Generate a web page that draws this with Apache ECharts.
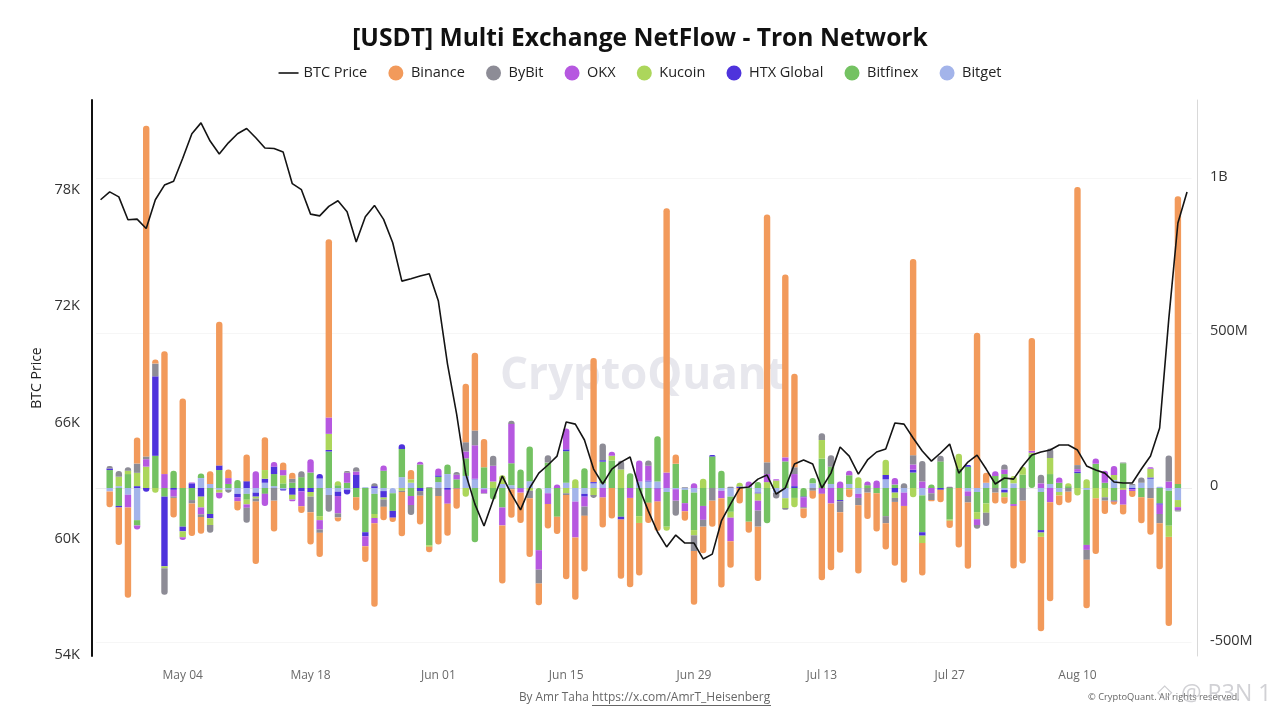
<!DOCTYPE html>
<html><head><meta charset="utf-8">
<style>html,body{margin:0;padding:0;background:#fff}#c{width:1280px;height:720px}</style>
<script src="https://cdn.jsdelivr.net/npm/echarts@6/dist/echarts.min.js"></script>
</head><body><div id="c"></div>
<script>
const FONT = '"Open Sans","Noto Sans",sans-serif';
const startDate = Date.UTC(2024,3,25);
const dayCount = 120;
const btcPrice = [77550,77960,77700,76520,76550,76070,77550,78310,78510,79690,80960,81520,80580,79910,80490,80960,81230,80750,80220,80200,80010,78380,78070,76810,76720,77210,77500,76930,75370,76670,77260,76540,75330,73350,73470,73610,73730,72320,69070,66490,63390,61840,60710,62050,63290,62360,61540,62670,63440,63860,64320,66080,65970,65150,63650,62880,63650,64010,64270,62670,61480,60400,59630,60240,59830,59830,59010,59260,60970,61840,62670,62720,63130,63340,62360,62670,63910,64120,63910,62670,63440,64790,64320,63390,64120,64530,64680,66030,65970,65250,64580,64060,64480,64940,63440,64010,64370,63650,62880,63190,63130,63810,64370,64530,64630,64890,64890,64630,63810,63600,63440,62980,62930,62930,63650,64320,65770,71390,76350,77950];
// Netflow in millions of USDT, one value per day from Apr 26 to Aug 21
const binance = [-51,-121,-292,84,1069,13,397,-63,289,-105,-54,41,464,28,-30,86,-202,106,-100,24,19,-22,-105,-78,576,-13,0,-43,-51,-270,-43,-14,-143,30,-93,-18,-157,-103,-65,189,251,91,0,-188,-92,-98,-190,-70,-79,-56,-272,-201,-180,401,-97,-99,-191,-289,-170,-65,-95,854,30,-31,-173,-86,-84,-289,-86,-50,-36,-176,801,0,591,302,-32,-26,-279,-216,-131,-26,-220,-85,-124,-85,-206,-248,634,-105,-4,-40,-23,-192,-214,502,32,-35,-21,-202,-203,365,-305,-320,-32,-36,899,-157,-180,-43,-10,-32,-19,-84,-118,-149,-288,930];
const bybit = [8,19,11,30,9,41,-86,-4,0,-11,-9,-25,0,-9,0,-48,-10,0,-41,0,13,19,-50,-11,-54,-13,6,14,0,9,-24,0,-4,-32,-15,2,-26,0,9,30,48,-2,32,0,10,0,-24,-45,24,0,-6,0,-30,-9,54,0,28,0,0,17,0,0,-49,2,-51,-22,-41,0,4,0,0,-52,38,-19,-5,22,-4,-9,22,37,-35,0,-24,-15,0,-23,-13,15,30,66,-22,18,4,0,-21,-12,-43,-15,16,0,-41,0,28,31,0,-12,13,-32,0,-11,0,2,4,17,-33,-30,84,-4];
const okx = [0,0,-41,-13,24,0,45,-22,-9,3,-22,0,-19,19,-13,-11,54,-39,15,17,-6,-48,43,-30,53,-56,32,11,-32,-17,17,0,0,-29,9,0,22,-45,15,22,108,-13,51,-58,127,-13,0,-63,-35,11,67,-116,-32,0,-31,13,0,-32,68,48,-42,50,-37,-26,15,-45,0,-24,-76,0,17,-32,26,4,13,39,-32,0,-19,-50,21,15,-13,12,24,0,21,-43,17,21,-17,0,0,0,-15,-19,0,15,15,-6,0,6,15,-46,17,0,8,-16,17,39,29,-48,-6,0,5,-30,21,-10];
const kucoin = [0,30,11,43,69,-15,-6,0,-19,0,-35,-22,-9,0,0,-15,-6,28,0,26,-15,0,-15,-13,52,13,0,0,0,-13,-6,0,-9,11,0,-5,0,0,0,-28,0,0,21,28,-2,0,-9,0,0,0,-17,28,0,-23,0,15,60,0,-22,0,0,-13,0,0,-17,30,0,0,-19,12,0,-23,19,24,-32,-30,0,0,60,0,0,-4,35,0,0,49,-17,0,-30,-24,0,0,-4,48,0,-23,-30,0,-15,24,26,6,-14,52,-11,9,-24,28,-33,-30,16,-6,0,0,28,0,-36,-23];
const htx = [5,-5,0,6,-12,257,-225,-6,-15,15,-28,-14,15,0,-11,22,-13,13,24,-4,-22,-11,-13,14,5,-14,-15,42,-13,6,-21,-22,15,0,-10,0,5,-6,-2,0,2,0,0,0,-2,-2,0,0,0,0,6,0,-9,4,5,0,-9,0,0,3,-2,0,0,0,0,0,5,0,0,5,0,-3,0,0,0,6,-2,0,0,0,-4,0,0,0,0,14,-15,0,9,-11,0,-6,0,0,5,0,0,0,-9,0,0,0,-8,0,0,0,5,0,0,0,-3,0,-4,0,4,-4,0,0];
const bitfinex = [58,-58,45,-17,0,104,-28,56,-125,-39,15,-84,58,13,26,-19,0,-19,39,15,17,35,50,-91,118,9,17,-30,-143,-65,56,-57,91,-26,76,-185,17,31,28,57,-175,67,-37,-63,71,60,112,-201,82,-93,102,0,64,0,70,89,-93,48,-91,-48,146,-112,78,-43,-121,-58,102,56,-49,0,-109,19,-114,0,86,-32,-28,17,95,56,-39,28,0,9,-17,-91,11,0,50,-119,11,86,-102,63,69,-65,-50,39,45,-52,43,108,-123,32,17,6,48,-178,78,17,-41,80,0,-30,0,-50,-113,13];
const bitget = [-11,6,-22,-104,0,0,0,0,0,0,32,13,-6,-6,-19,-19,-15,17,6,-4,0,0,0,31,-23,-12,-6,0,2,-19,-10,-17,35,17,0,0,19,45,0,39,28,-4,0,13,9,0,22,0,-17,0,17,-44,-19,15,15,0,0,0,21,21,21,-13,-4,-6,-15,0,0,-9,-28,0,4,-15,0,-15,-33,0,0,15,0,13,0,13,-19,0,0,28,0,-15,0,-24,0,0,0,0,-11,-13,17,0,-6,15,0,0,-13,13,-13,0,0,-6,0,0,26,0,9,17,30,4,-9,-39];
const seriesNames = ['Bitget','Bitfinex','HTX Global','Kucoin','OKX','ByBit','Binance'];
const seriesValues = [bitget,bitfinex,htx,kucoin,okx,bybit,binance];
const seriesColors = ['#A3B4EA','#74C262','#4E33DC','#ACD65B','#B658E0','#8D8C96','#F29A5B'];
const legendOrder = ['BTC Price','Binance','ByBit','OKX','Kucoin','HTX Global','Bitfinex','Bitget'];
const MON = ['Jan','Feb','Mar','Apr','May','Jun','Jul','Aug','Sep','Oct','Nov','Dec'];
const categories = [];
for (let i=0;i<dayCount;i++){ const d=new Date(startDate+i*864e5); categories.push(MON[d.getUTCMonth()]+' '+String(d.getUTCDate()).padStart(2,'0')); }

function barData(k){
  const R=3;
  return categories.map((_,c)=>{
    const day=c-1;
    if(day<0||day>=binance.length) return null;
    const v=seriesValues[k][day];
    if(!v) return null;
    const vals=seriesValues.map(s=>s[day]);
    const posIdx=vals.map((x,i)=>x>0?i:-1).filter(i=>i>=0);
    const negIdx=vals.map((x,i)=>x<0?i:-1).filter(i=>i>=0);
    const topIdx=posIdx.length?posIdx[posIdx.length-1]:negIdx[0];
    const botIdx=negIdx.length?negIdx[negIdx.length-1]:posIdx[0];
    const top=k===topIdx, bot=k===botIdx;
    return {value:v,itemStyle:{borderRadius:[top?R:0,top?R:0,bot?R:0,bot?R:0]}};
  });
}
const showTick=(i)=>((i-9)%14===0)&&i>=9;
const series=[{name:'BTC Price',type:'line',yAxisIndex:0,data:btcPrice,symbol:'none',z:5,
  lineStyle:{color:'#141414',width:1.6},itemStyle:{color:'#141414'}}];
seriesNames.forEach((n,k)=>series.push({name:n,type:'bar',yAxisIndex:1,stack:'flow',barWidth:6.4,
  data:barData(k),itemStyle:{color:seriesColors[k]},emphasis:{disabled:true}}));

const chart=echarts.init(document.getElementById('c'),null,{renderer:'canvas'});
chart.setOption({
  animation:false,backgroundColor:'#fff',textStyle:{fontFamily:FONT},
  title:{text:'[USDT] Multi Exchange NetFlow - Tron Network',left:'center',top:21,
    textStyle:{fontFamily:FONT,fontSize:24.6,fontWeight:700,color:'#111'}},
  legend:{data:legendOrder.map(n=>n==='BTC Price'?{name:n,icon:'path://M0 0H20V1.6H0Z'}:{name:n,icon:'circle'}),
    top:60.5,left:'center',itemWidth:20,itemHeight:15,itemGap:21.2,
    textStyle:{fontFamily:FONT,fontSize:14.5,color:'#222'},
    selectedMode:false},
  grid:{left:96,right:88.4,top:100,bottom:64},
  xAxis:{type:'category',data:categories,boundaryGap:true,
    axisLine:{lineStyle:{color:'#eeeeee'}},
    axisTick:{interval:(i)=>showTick(i),alignWithLabel:true,lineStyle:{color:'#dddddd'},length:5},
    axisLabel:{interval:(i)=>showTick(i),color:'#6a6a6a',fontSize:12,margin:14}},
  yAxis:[
    {type:'value',position:'left',offset:4,min:54000,max:82700,interval:6000,
     name:'BTC Price',nameLocation:'middle',nameGap:46,nameTextStyle:{fontSize:14,color:'#222'},
     axisLine:{show:true,lineStyle:{color:'#111',width:2}},axisTick:{show:false},splitLine:{show:false},
     axisLabel:{color:'#333',fontSize:14.5,margin:12,verticalAlign:'bottom',lineHeight:2,formatter:v=>v%6000?'':(v/1000)+'K'}},
    {type:'value',position:'right',offset:5.4,min:-543,max:1254,splitNumber:4,minInterval:500,maxInterval:500,
     axisLine:{show:true,lineStyle:{color:'#d9d9d9',width:1}},axisTick:{show:false},
     splitLine:{show:true,showMinLine:false,showMaxLine:false,lineStyle:{color:'#f6f6f6'}},
     axisLabel:{color:'#333',fontSize:14.5,margin:13,verticalAlign:'bottom',lineHeight:4,
       formatter:v=>v%500?'':(v===1000?'1B':(v===0?'0':v+'M'))}}
  ],
  graphic:[
    {type:'text',z:0,left:500,top:354,style:{text:'CryptoQuant',fontFamily:FONT,fontSize:44,fontWeight:700,fill:'#e7e7ed'}},
    {type:'text',z:100,left:519,top:692,style:{text:'By Amr Taha',fontFamily:FONT,fontSize:11.8,fill:'#666'}},
    {type:'text',z:100,left:592,top:692,style:{text:'https://x.com/AmrT_Heisenberg',fontFamily:FONT,fontSize:12,fill:'#666'}},
    {type:'rect',z:100,shape:{x:592,y:705,width:179,height:1},style:{fill:'#666'}},
    {type:'text',z:100,left:1088,top:693,style:{text:'© CryptoQuant. All rights reserved.',fontFamily:FONT,fontSize:9.3,fill:'#666'}},
    {type:'text',z:101,left:1157,top:683,style:{text:'◇',fontFamily:'"DejaVu Sans"',fontSize:20,fill:'rgba(190,190,195,0.8)'}},
    {type:'text',z:101,left:1181,top:683,style:{text:'@ R3N 1',fontFamily:FONT,fontSize:23,fill:'rgba(190,190,195,0.7)'}}
  ],
  series
});
</script></body></html>
